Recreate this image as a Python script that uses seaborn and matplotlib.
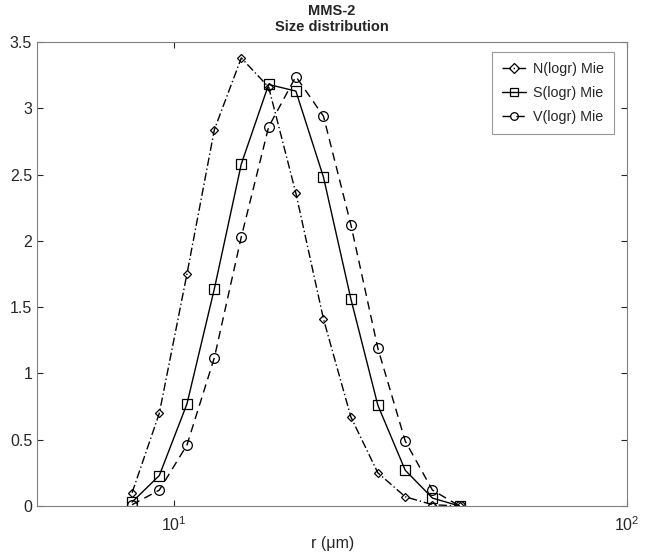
import numpy as np
import pandas as pd
import matplotlib
matplotlib.use("Agg")
import matplotlib.pyplot as plt
from matplotlib.ticker import FixedLocator, NullLocator
import seaborn as sns

# radius bins (um)
r = [8.1, 9.3, 10.7, 12.3, 14.1, 16.2, 18.6, 21.4, 24.6, 28.2, 32.4, 37.2, 42.7]

n_mie = [0.10, 0.70, 1.75, 2.84, 3.38, 3.16, 2.36, 1.41, 0.67, 0.25, 0.07, 0.01, 0.0]
s_mie = [0.03, 0.23, 0.77, 1.64, 2.58, 3.18, 3.13, 2.48, 1.56, 0.76, 0.27, 0.06, 0.0]
v_mie = [0.01, 0.12, 0.46, 1.12, 2.03, 2.86, 3.24, 2.94, 2.12, 1.19, 0.49, 0.12, 0.0]

series = [
    ("N(logr) Mie", n_mie, "D", (0, (6, 2, 1, 2)), 4.5),
    ("S(logr) Mie", s_mie, "s", "-", 7),
    ("V(logr) Mie", v_mie, "o", (0, (6, 4)), 7),
]

sns.set_style("ticks")
plt.rcParams['font.family'] = ['Liberation Sans', 'DejaVu Sans']

fig = plt.figure(figsize=(6.5, 5.54), dpi=100)
ax = fig.add_axes([0.057, 0.0866, 0.908, 0.8375])

for name, vals, mk, ls, ms in series:
    df = pd.DataFrame({"r": r, "val": vals})
    sns.lineplot(data=df, x="r", y="val", ax=ax, color="black", linewidth=1.0,
                 linestyle=ls, marker=mk, markersize=ms, fillstyle="none",
                 markeredgewidth=0.9, markeredgecolor="black", label=name)

ax.set_xscale("log")
ax.set_xlim(5, 100)
ax.set_ylim(0, 3.5)
ax.xaxis.set_major_locator(FixedLocator([10, 100]))
ax.xaxis.set_minor_locator(NullLocator())
ax.set_yticks(np.arange(0, 3.51, 0.5))
ax.set_yticklabels(["0", "0.5", "1", "1.5", "2", "2.5", "3", "3.5"])

gray = "#808080"
for sp in ax.spines.values():
    sp.set_visible(True)
    sp.set_color(gray)
    sp.set_linewidth(0.8)
ax.tick_params(direction="in", length=4, color="#262626", labelcolor="#262626",
               labelsize=11.5, top=True, right=True, width=0.8)
ax.tick_params(axis="x", pad=7)

ax.set_xlabel("r (μm)", fontsize=11.5, color="#262626", labelpad=1)
ax.set_ylabel("")
ax.set_title("MMS-2\nSize distribution", fontsize=10.5, fontweight="bold", pad=8)

leg = ax.legend(loc="upper right", bbox_to_anchor=(0.978, 0.978), borderaxespad=0,
                fontsize=10.3, frameon=True, fancybox=False, edgecolor=gray,
                handlelength=1.7, borderpad=0.7, labelspacing=0.7, handletextpad=0.5)
leg.get_frame().set_linewidth(0.8)
for h in leg.legend_handles:
    h.set_markersize(5.5)

fig.savefig("out.png", dpi=100)
